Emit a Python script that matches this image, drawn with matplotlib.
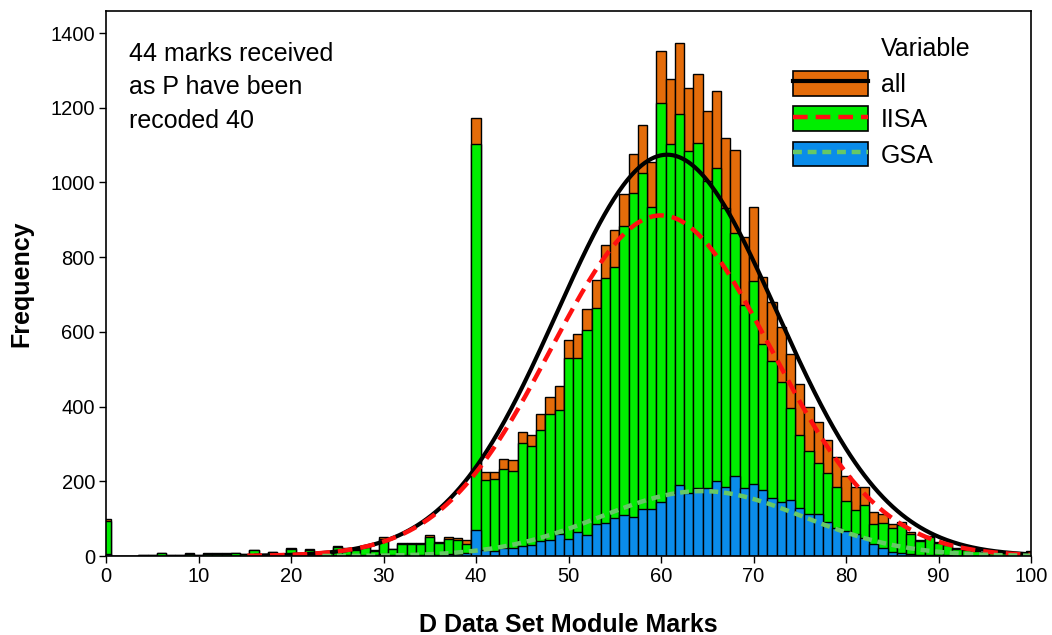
import numpy as np
import matplotlib
matplotlib.use("Agg")
import matplotlib.pyplot as plt
from matplotlib.patches import Patch
from matplotlib.lines import Line2D

# ---------------- data ----------------
marks = list(range(0, 101))

all_counts = [
    100, 0, 0, 0, 4, 4, 8, 4, 2, 7,
    4, 7, 7, 7, 7, 5, 17, 5, 12, 4,
    22, 6, 19, 9, 9, 26, 22, 18, 27, 15,
    51, 20, 34, 34, 36, 55, 38, 51, 47, 42,
    1172, 225, 225, 260, 257, 333, 324, 379, 425, 455,
    577, 594, 662, 740, 832, 874, 969, 1076, 1154, 1055,
    1353, 1276, 1372, 1254, 1289, 1190, 1246, 1118, 1086, 855,
    934, 748, 680, 613, 540, 461, 398, 358, 311, 265,
    214, 186, 186, 119, 113, 87, 90, 65, 43, 54,
    38, 32, 21, 18, 15, 12, 9, 9, 7, 6,
    13,
]

iisa_counts = [
    94, 0, 0, 0, 4, 3, 7, 4, 2, 6,
    4, 6, 6, 6, 7, 5, 15, 4, 11, 4,
    20, 5, 17, 8, 8, 23, 19, 16, 24, 13,
    46, 18, 31, 31, 32, 50, 34, 46, 42, 33,
    1102, 203, 207, 232, 228, 303, 294, 337, 380, 392,
    531, 531, 606, 665, 743, 773, 883, 973, 1026, 935,
    1212, 1102, 1182, 1085, 1106, 1005, 1039, 932, 864, 671,
    737, 568, 523, 467, 397, 324, 280, 249, 223, 185,
    147, 122, 136, 85, 89, 76, 82, 60, 39, 51,
    36, 29, 20, 17, 14, 11, 9, 8, 7, 6,
    12,
]

gsa_counts = [
    6, 0, 0, 0, 0, 1, 1, 0, 0, 1,
    0, 1, 1, 1, 0, 0, 2, 1, 1, 0,
    2, 1, 2, 1, 1, 3, 3, 2, 3, 2,
    5, 2, 3, 3, 4, 5, 4, 5, 5, 9,
    70, 15, 14, 22, 22, 27, 29, 40, 42, 60,
    46, 64, 56, 85, 89, 101, 110, 105, 127, 127,
    144, 169, 190, 169, 183, 183, 202, 186, 215, 181,
    194, 178, 156, 145, 149, 129, 112, 112, 91, 76,
    67, 58, 49, 33, 21, 12, 8, 5, 4, 3,
    2, 2, 1, 1, 1, 1, 0, 1, 0, 0,
    1,
]

series_labels = ["all", "IISA", "GSA"]
legend_title = "Variable"
note_text = "44 marks received\nas P have been\nrecoded 40"
x_label = "D Data Set Module Marks"
y_label = "Frequency"
x_ticks = list(range(0, 101, 10))
y_ticks = list(range(0, 1401, 200))

# ---------------- style ----------------
FONT = ["Liberation Sans", "Arial", "DejaVu Sans"]
plt.rcParams["font.family"] = FONT

c_all = "#E46C0A"
c_iisa = "#00EE00"
c_gsa = "#0A8CEA"
c_fit_all = "black"
c_fit_iisa = "#FF1010"
c_fit_gsa = "#66C866"

fig = plt.figure(figsize=(10.52, 6.35), dpi=100)
ax = fig.add_axes([0.1008, 0.1244, 0.8793, 0.8583])

x = np.asarray(marks, float)
bar_kw = dict(width=1.0, align="center", edgecolor="black", linewidth=1.0)
ax.bar(x, all_counts, color=c_all, zorder=1, **bar_kw)
ax.bar(x, iisa_counts, color=c_iisa, zorder=2, **bar_kw)
ax.bar(x, gsa_counts, color=c_gsa, zorder=3, **bar_kw)


def normal_fit(counts):
    c = np.asarray(counts, float)
    n = c.sum()
    mu = (c * x).sum() / n
    sd = np.sqrt((c * (x - mu) ** 2).sum() / (n - 1))
    xs = np.linspace(max(0.0, mu - 3.75 * sd), min(100.0, mu + 3.75 * sd), 500)
    ys = n * np.exp(-0.5 * ((xs - mu) / sd) ** 2) / (sd * np.sqrt(2 * np.pi))
    return xs, ys


xs, ys = normal_fit(all_counts)
ax.plot(xs, ys, color=c_fit_all, lw=3.0, zorder=4, solid_capstyle="butt")
xs, ys = normal_fit(iisa_counts)
ax.plot(xs, ys, color=c_fit_iisa, lw=3.2, zorder=5, linestyle=(0, (3.3, 1.8)))
xs, ys = normal_fit(gsa_counts)
ax.plot(xs, ys, color=c_fit_gsa, lw=3.2, zorder=6, linestyle=(0, (2.0, 1.3)))

ax.set_xlim(0, 100)
ax.set_ylim(0, 1459)
ax.set_xticks(x_ticks)
ax.set_yticks(y_ticks)
ax.tick_params(axis="both", direction="out", length=5, width=1.0,
               labelsize=14.5, pad=3, top=False, right=False)
for s in ax.spines.values():
    s.set_linewidth(1.2)
    s.set_zorder(10)

ax.set_xlabel(x_label, fontsize=18, fontweight="bold", labelpad=19)
ax.set_ylabel(y_label, fontsize=18, fontweight="bold", labelpad=12)

ax.text(0.025, 0.944, note_text, transform=ax.transAxes, ha="left", va="top",
        fontsize=18, linespacing=1.5)

# legend: title row drawn as an invisible-handle entry so it aligns with labels
handles = [
    Patch(visible=False),
    (Patch(facecolor=c_all, edgecolor="black", linewidth=1.2),
     Line2D([], [], color=c_fit_all, lw=3.0)),
    (Patch(facecolor=c_iisa, edgecolor="black", linewidth=1.2),
     Line2D([], [], color=c_fit_iisa, lw=3.2, linestyle=(0, (3.3, 1.8)))),
    (Patch(facecolor=c_gsa, edgecolor="black", linewidth=1.2),
     Line2D([], [], color=c_fit_gsa, lw=3.2, linestyle=(0, (2.0, 1.3)))),
]
labels = [legend_title] + series_labels
ax.legend(handles, labels, loc="upper left", bbox_to_anchor=(0.7427, 0.955),
          frameon=False, fontsize=18, handlelength=3.0, handleheight=1.15,
          labelspacing=0.38, handletextpad=0.5, borderpad=0, borderaxespad=0)

fig.savefig("out.png", dpi=100)
